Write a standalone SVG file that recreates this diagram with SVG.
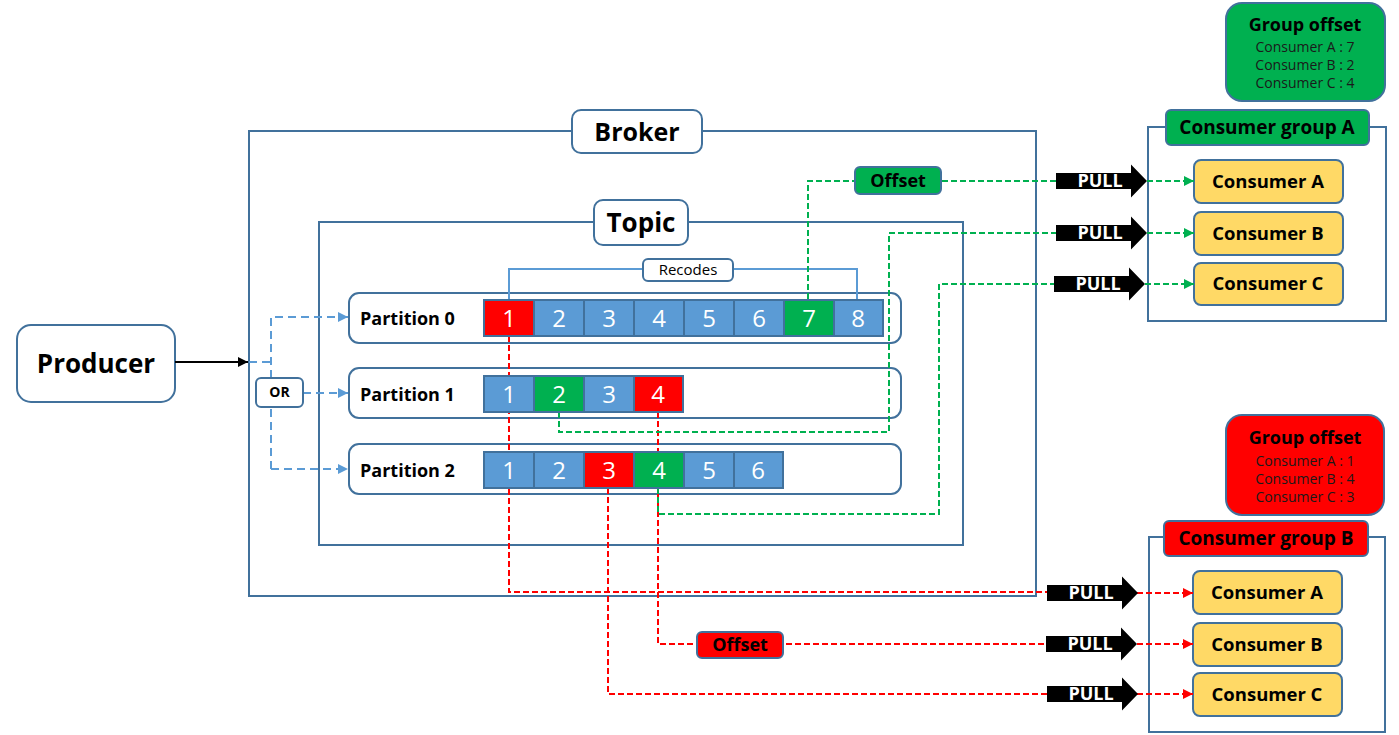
<svg xmlns="http://www.w3.org/2000/svg" width="1399" height="735" viewBox="0 0 1399 735">
<defs>
<style>
text{font-family:"Open Sans","Noto Sans",sans-serif;}
.box{fill:#fff;stroke:#41719C;stroke-width:2;}
.frame{fill:none;stroke:#41719C;stroke-width:2;}
.lbl{fill:#fff;stroke:#41719C;stroke-width:2;}
.big{font-size:24px;font-weight:bold;fill:#000;text-anchor:middle;}
.pl{font-size:18px;font-weight:bold;fill:#000;}
.cell{stroke:#41719C;stroke-width:2;}
.cb{fill:#5B9BD5;}
.cr{fill:#FF0000;}
.cg{fill:#00B050;}
.num{font-size:24px;fill:#fff;text-anchor:middle;}
.cons{fill:#FFD966;stroke:#41719C;stroke-width:2;}
.ct{font-size:18.5px;font-weight:bold;fill:#000;text-anchor:middle;}
.cgt{font-size:19px;font-weight:bold;fill:#000;text-anchor:middle;}
.got{font-size:18px;font-weight:bold;fill:#000;text-anchor:middle;}
.go{font-size:14px;fill:#1a1a1a;text-anchor:middle;}
.pull{font-size:18px;font-weight:bold;fill:#fff;text-anchor:middle;}
.gd{fill:none;stroke:#00B050;stroke-width:2;stroke-dasharray:6 3;}
.rd{fill:none;stroke:#FF0000;stroke-width:2;stroke-dasharray:6 3;}
.bd{fill:none;stroke:#5B9BD5;stroke-width:2;stroke-dasharray:8 5;}
</style>
<marker id="ag" viewBox="0 0 10 10" refX="10" refY="5" markerWidth="5" markerHeight="5" orient="auto"><path d="M0,0 L10,5 L0,10 Z" fill="#00B050"/></marker>
<marker id="ar" viewBox="0 0 10 10" refX="10" refY="5" markerWidth="5" markerHeight="5" orient="auto"><path d="M0,0 L10,5 L0,10 Z" fill="#FF0000"/></marker>
<marker id="ab" viewBox="0 0 10 10" refX="10" refY="5" markerWidth="5" markerHeight="5" orient="auto"><path d="M0,0 L10,5 L0,10 Z" fill="#5B9BD5"/></marker>
<marker id="ak" viewBox="0 0 10 10" refX="10" refY="5" markerWidth="5" markerHeight="5" orient="auto"><path d="M0,0 L10,5 L0,10 Z" fill="#000"/></marker>
<path id="pullshape" d="M0,-8 H75 V-16.5 L91,0 L75,16.5 V8 H0 Z" fill="#000"/>
</defs>
<rect width="1399" height="735" fill="#fff"/>

<g id="broker">
<rect class="frame" x="249" y="131" width="787" height="465"/>
<rect class="lbl" x="572" y="110" width="130" height="43" rx="9"/>
<text class="big" x="637" y="141" style="font-size:25px">Broker</text>
</g>

<g id="topic">
<rect class="frame" x="319" y="222" width="644" height="323"/>
<rect class="lbl" x="594" y="200" width="94" height="45" rx="9"/>
<text class="big" x="641" y="232" style="font-size:26px">Topic</text>
</g>

<g id="partition0">
<rect class="frame" x="349" y="293" width="552" height="50" rx="10"/>
<text class="pl" x="360" y="325">Partition 0</text>
</g>
<g id="partition1">
<rect class="frame" x="349" y="368" width="552" height="50" rx="10"/>
<text class="pl" x="360" y="401">Partition 1</text>
</g>
<g id="partition2">
<rect class="frame" x="349" y="444" width="552" height="50" rx="10"/>
<text class="pl" x="360" y="477">Partition 2</text>
</g>

<g id="producer">
<rect class="box" x="17" y="325" width="158" height="77" rx="14"/>
<text class="big" x="96" y="373" style="font-size:26px">Producer</text>
</g>

<g id="group-offset-a">
<rect x="1226" y="3" width="159" height="98" rx="16" fill="#00B050" stroke="#41719C" stroke-width="2"/>
<text class="got" x="1305" y="31">Group offset</text>
<text class="go" x="1305" y="52">Consumer A : 7</text>
<text class="go" x="1305" y="70">Consumer B : 2</text>
<text class="go" x="1305" y="88">Consumer C : 4</text>
</g>

<g id="consumer-group-a">
<rect class="frame" x="1148" y="127" width="238" height="194"/>
<rect x="1166" y="110" width="203" height="35" rx="5" fill="#00B050" stroke="#41719C" stroke-width="2"/>
<text class="cgt" x="1267" y="134">Consumer group A</text>
</g>
<g id="ga-consumer-a"><rect class="cons" x="1194" y="160" width="149" height="43" rx="7"/><text class="ct" x="1268" y="188">Consumer A</text></g>
<g id="ga-consumer-b"><rect class="cons" x="1194" y="212" width="149" height="43" rx="7"/><text class="ct" x="1268" y="240">Consumer B</text></g>
<g id="ga-consumer-c"><rect class="cons" x="1194" y="263" width="149" height="42" rx="7"/><text class="ct" x="1268" y="290">Consumer C</text></g>

<g id="group-offset-b">
<rect x="1226" y="415" width="158" height="100" rx="16" fill="#FF0000" stroke="#41719C" stroke-width="2"/>
<text class="got" x="1305" y="444">Group offset</text>
<text class="go" x="1305" y="466">Consumer A : 1</text>
<text class="go" x="1305" y="484">Consumer B : 4</text>
<text class="go" x="1305" y="502">Consumer C : 3</text>
</g>

<g id="consumer-group-b">
<rect class="frame" x="1149" y="537" width="236" height="195"/>
<rect x="1164" y="521" width="204" height="35" rx="5" fill="#FF0000" stroke="#41719C" stroke-width="2"/>
<text class="cgt" x="1266" y="545">Consumer group B</text>
</g>
<g id="gb-consumer-a"><rect class="cons" x="1193" y="571" width="149" height="43" rx="7"/><text class="ct" x="1267" y="599">Consumer A</text></g>
<g id="gb-consumer-b"><rect class="cons" x="1193" y="623" width="149" height="43" rx="7"/><text class="ct" x="1267" y="651">Consumer B</text></g>
<g id="gb-consumer-c"><rect class="cons" x="1193" y="673" width="149" height="43" rx="7"/><text class="ct" x="1267" y="701">Consumer C</text></g>

<g id="connectors">
<line x1="175" y1="362" x2="248" y2="362" stroke="#000" stroke-width="2" marker-end="url(#ak)"/>
<path class="bd" d="M249,362 H271"/>
<path class="bd" d="M271,469 V317 H348" marker-end="url(#ab)"/>
<path class="bd" d="M303,393 H348" marker-end="url(#ab)"/>
<path class="bd" d="M271,469 H348" marker-end="url(#ab)"/>
<path d="M509,299 V269 H857 V299" fill="none" stroke="#5B9BD5" stroke-width="2"/>
<path class="rd" d="M509,336 V592 H1047"/>
<path class="rd" d="M658,412 V644 H1046"/>
<path class="rd" d="M608,488 V694 H1047"/>
<path class="gd" d="M808,299 V181 H1056"/>
<path class="gd" d="M559,412 V432 H889 V233 H1056"/>
<path class="gd" d="M658,488 V514 H939 V284 H1054"/>
<path class="gd" d="M1147,181 H1194" marker-end="url(#ag)"/>
<path class="gd" d="M1147,233 H1194" marker-end="url(#ag)"/>
<path class="gd" d="M1145,284 H1194" marker-end="url(#ag)"/>
<path class="rd" d="M1137,593 H1193" marker-end="url(#ar)"/>
<path class="rd" d="M1137,644 H1193" marker-end="url(#ar)"/>
<path class="rd" d="M1137,694 H1193" marker-end="url(#ar)"/>
</g>

<g id="partition0-records">
<rect class="cell cr" x="484" y="300" width="50" height="36"/>
<rect class="cell cb" x="534" y="300" width="50" height="36"/>
<rect class="cell cb" x="584" y="300" width="50" height="36"/>
<rect class="cell cb" x="634" y="300" width="50" height="36"/>
<rect class="cell cb" x="684" y="300" width="50" height="36"/>
<rect class="cell cb" x="734" y="300" width="50" height="36"/>
<rect class="cell cg" x="784" y="300" width="50" height="36"/>
<rect class="cell cb" x="834" y="300" width="49" height="36"/>
<text class="num" x="509" y="327">1</text><text class="num" x="559" y="327">2</text><text class="num" x="609" y="327">3</text><text class="num" x="659" y="327">4</text><text class="num" x="709" y="327">5</text><text class="num" x="759" y="327">6</text><text class="num" x="809" y="327">7</text><text class="num" x="858" y="327">8</text>
</g>
<g id="partition1-records">
<rect class="cell cb" x="484" y="376" width="50" height="36"/>
<rect class="cell cg" x="534" y="376" width="50" height="36"/>
<rect class="cell cb" x="584" y="376" width="50" height="36"/>
<rect class="cell cr" x="634" y="376" width="49" height="36"/>
<text class="num" x="509" y="403">1</text><text class="num" x="559" y="403">2</text><text class="num" x="609" y="403">3</text><text class="num" x="658" y="403">4</text>
</g>
<g id="partition2-records">
<rect class="cell cb" x="484" y="452" width="50" height="36"/>
<rect class="cell cb" x="534" y="452" width="50" height="36"/>
<rect class="cell cr" x="584" y="452" width="50" height="36"/>
<rect class="cell cg" x="634" y="452" width="50" height="36"/>
<rect class="cell cb" x="684" y="452" width="50" height="36"/>
<rect class="cell cb" x="734" y="452" width="49" height="36"/>
<text class="num" x="509" y="479">1</text><text class="num" x="559" y="479">2</text><text class="num" x="609" y="479">3</text><text class="num" x="659" y="479">4</text><text class="num" x="709" y="479">5</text><text class="num" x="758" y="479">6</text>
</g>

<g id="recodes">
<rect class="lbl" x="643" y="259" width="90" height="22" rx="5"/>
<text x="688" y="275" style="font-size:15px;text-anchor:middle;fill:#000">Recodes</text>
</g>
<g id="or">
<rect class="lbl" x="256" y="378" width="47" height="29" rx="5"/>
<text x="279.5" y="397" style="font-size:14px;font-weight:bold;text-anchor:middle;fill:#000">OR</text>
</g>
<g id="offset-a">
<rect x="855" y="167" width="86" height="27" rx="5" fill="#00B050" stroke="#41719C" stroke-width="2"/>
<text x="898" y="187" style="font-size:18px;font-weight:bold;text-anchor:middle;fill:#000">Offset</text>
</g>
<g id="offset-b">
<rect x="697" y="632" width="86" height="26" rx="5" fill="#FF0000" stroke="#41719C" stroke-width="2"/>
<text x="740" y="651" style="font-size:18px;font-weight:bold;text-anchor:middle;fill:#000">Offset</text>
</g>

<g id="pull-a1"><use href="#pullshape" transform="translate(1056,181)"/><text class="pull" x="1100" y="187">PULL</text></g>
<g id="pull-a2"><use href="#pullshape" transform="translate(1056,233)"/><text class="pull" x="1100" y="239">PULL</text></g>
<g id="pull-a3"><use href="#pullshape" transform="translate(1054,284)"/><text class="pull" x="1098" y="290">PULL</text></g>
<g id="pull-b1"><use href="#pullshape" transform="translate(1047,593)"/><text class="pull" x="1091" y="599">PULL</text></g>
<g id="pull-b2"><use href="#pullshape" transform="translate(1046,644)"/><text class="pull" x="1090" y="650">PULL</text></g>
<g id="pull-b3"><use href="#pullshape" transform="translate(1047,694)"/><text class="pull" x="1091" y="700">PULL</text></g>
</svg>
